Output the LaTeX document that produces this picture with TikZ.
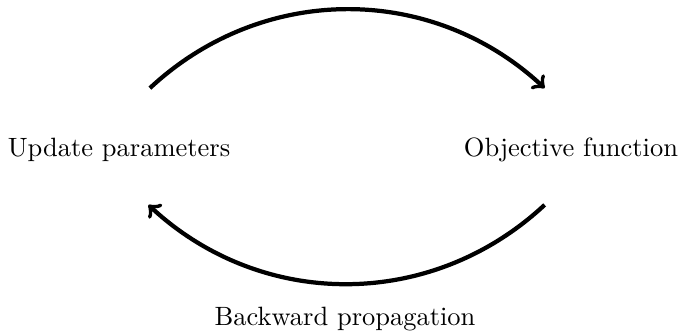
\documentclass[tikz,border=0pt]{standalone}
\usepackage{tikz}
\usepackage{xcolor}
\usepackage{amsmath}

\begin{document}
\begin{tikzpicture}
                \useasboundingbox (-1.58, -2.40) rectangle (7.50, 1.99);
                % Nodes
                \node (update) at (0, 0) {Update parameters};
                \node (objective) at (6, 0) {Objective function};
                \node (backward) at (3, -2.24) {Backward propagation};
                
                % Arc ends
                \coordinate (ua) at (0.41, 0.82);
                \coordinate (oa) at (5.65, 0.82);
                \coordinate (ob) at (5.65, -0.73);
                \coordinate (ub) at (0.39, -0.73);
                
                % Edges
                \draw[->, ultra thick] (ua) to[bend left=43] (oa);
                \draw[->, ultra thick] (ob) to[bend left=43] (ub);
            \end{tikzpicture}
\end{document}
